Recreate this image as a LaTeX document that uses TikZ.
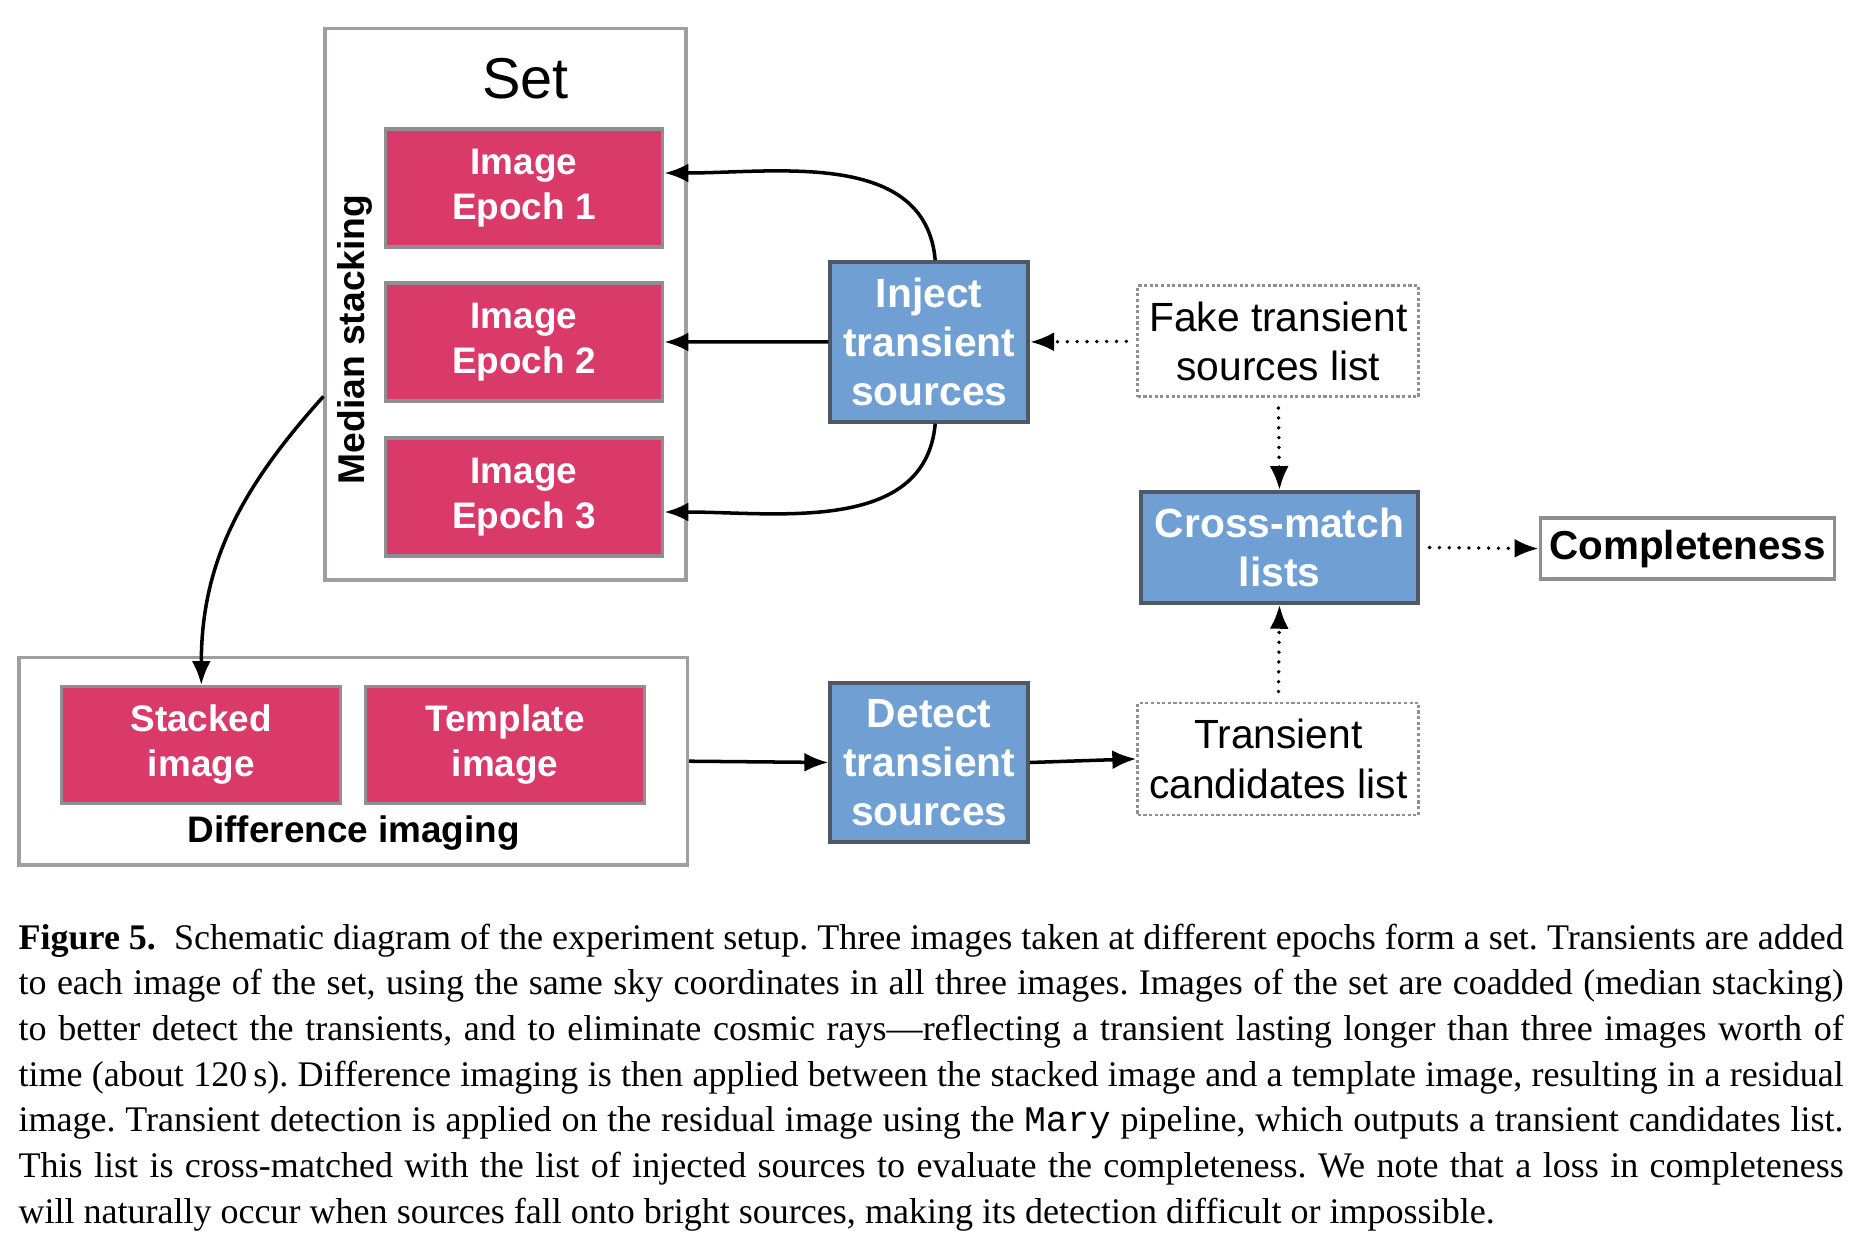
\documentclass[tikz,border=0pt]{standalone}
\usepackage{fontspec}
\setmainfont{Liberation Serif}
\setsansfont{Liberation Sans}
\setmonofont{Liberation Mono}
\usetikzlibrary{arrows.meta,positioning,calc}
\definecolor{PinkBox}{HTML}{D93A6A}
\definecolor{BlueBox}{HTML}{70A0D3}
\definecolor{BlueEdge}{HTML}{4F5965}
\definecolor{GreyEdge}{HTML}{8E8E93}

\begin{document}
\begin{tikzpicture}[font=\sffamily,>={Latex[length=2.4mm,width=1.9mm]},pinkbox/.style={draw=GreyEdge,fill=PinkBox,line width=0.9pt,text=white,align=center,inner sep=0pt,font=\sffamily\bfseries\fontsize{10.5}{12.8}\selectfont},bluebox/.style={draw=BlueEdge,fill=BlueBox,line width=1.1pt,text=white,align=center,inner sep=0pt,font=\sffamily\bfseries\fontsize{11.6}{14}\selectfont},listbox/.style={draw=GreyEdge,dash pattern=on 0.9pt off 0.7pt,line width=0.8pt,align=center,inner sep=0pt,font=\sffamily\fontsize{11.6}{14}\selectfont},groupbox/.style={draw=GreyEdge!85,line width=1pt,inner sep=0pt},flow/.style={->,line width=1pt},dotflow/.style={->,line width=1.1pt,dash pattern=on 0pt off 2.8pt,line cap=round,shorten <=1mm}]
\useasboundingbox (0,0) rectangle (18.68,-12.5);
% set of three epochs
\node[groupbox,minimum width=3.61cm,minimum height=5.516cm] (set) at (5.057,-3.044) {};
\node[font=\sffamily\fontsize{16.4}{19}\selectfont] (settitle) at (5.254,-0.786) {Set};
\node[rotate=90,font=\sffamily\bfseries\fontsize{10.6}{13}\selectfont] (median) at (3.55,-3.395) {Median stacking};
\foreach \i/\y in {1/-1.88,2/-3.42,3/-4.97}{
\node[pinkbox,minimum width=2.776cm,minimum height=1.179cm] (epoch\i) at (5.24,\y) {Image\\Epoch \i};
}
% difference imaging
\node[groupbox,minimum width=6.683cm,minimum height=2.073cm] (diff) at (3.532,-7.612) {};
\node[pinkbox,minimum width=2.788cm,minimum height=1.167cm] (stacked) at (2.013,-7.45) {Stacked\\image};
\node[pinkbox,minimum width=2.788cm,minimum height=1.167cm] (template) at (5.051,-7.45) {Template\\image};
\node[font=\sffamily\bfseries\fontsize{10.5}{13}\selectfont] (difftext) at (3.538,-8.33) {Difference imaging};
% processing steps and lists
\node[bluebox,minimum width=1.978cm,minimum height=1.596cm] (inject) at (9.292,-3.419) {Inject\\transient\\sources};
\node[bluebox,minimum width=1.978cm,minimum height=1.596cm] (detect) at (9.292,-7.625) {Detect\\transient\\sources};
\node[bluebox,minimum width=2.763cm,minimum height=1.108cm] (cross) at (12.795,-5.474) {Cross-match\\lists};
\node[listbox,minimum width=2.811cm,minimum height=1.108cm] (fake) at (12.783,-3.413) {Fake transient\\sources list};
\node[listbox,minimum width=2.811cm,minimum height=1.12cm] (cand) at (12.783,-7.589) {Transient\\candidates list};
\node[draw=GreyEdge,line width=1pt,minimum width=2.943cm,minimum height=0.608cm,inner sep=0pt,font=\sffamily\bfseries\fontsize{11.5}{14}\selectfont] (complete) at (16.875,-5.486) {Completeness};
% connectors
\draw[flow] ([xshift=0.6mm]inject.north) to[out=95,in=0] ([yshift=1.5mm]epoch1.east);
\draw[flow] (inject.west) -- (epoch2.east);
\draw[flow] ([xshift=0.6mm]inject.south) to[out=-95,in=0] ([yshift=-1.5mm]epoch3.east);
\draw[dotflow] (fake.west) -- (inject.east);
\draw[dotflow] (fake.south) -- (cross.north);
\draw[dotflow] (cand.north) -- (cross.south);
\draw[dotflow] (cross.east) -- (complete.west);
\draw[flow] (diff.east) -- (detect.west);
\draw[flow] (detect.east) -- (cand.west);
\draw[flow] ([yshift=-9.2mm]set.west) to[out=228,in=90] (stacked.north);
% caption
\node[anchor=north west,text width=18.25cm,align=justify,inner sep=0pt,font=\rmfamily\fontsize{10.25}{13}\selectfont] (caption) at (0.179,-9.23) {\frenchspacing\hyphenpenalty=10000\textbf{Figure 5.}\ \ Schematic diagram of the experiment setup. Three images taken at different epochs form a set. Transients are added\linebreak to each image of the set, using the same sky coordinates in all three images. Images of the set are coadded (median stacking)\linebreak to better detect the transients, and to eliminate cosmic rays---reflecting a transient lasting longer than three images worth of\linebreak time (about 120\,s). Difference imaging is then applied between the stacked image and a template image, resulting in a residual\linebreak image. Transient detection is applied on the residual image using the \texttt{Mary} pipeline, which outputs a transient candidates list.\linebreak This list is cross-matched with the list of injected sources to evaluate the completeness. We note that a loss in completeness\linebreak will naturally occur when sources fall onto bright sources, making its detection difficult or impossible.};
\end{tikzpicture}
\end{document}
